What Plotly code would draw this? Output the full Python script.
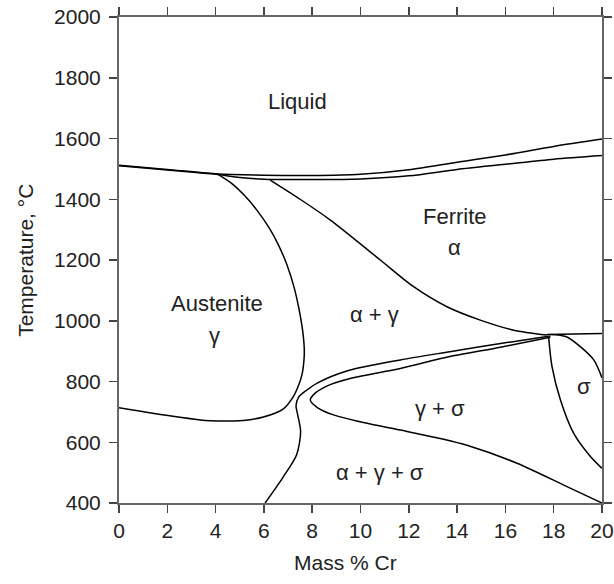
import plotly.graph_objects as go

# ---- data (Mass % Cr, Temperature °C) ----
liquidus_x = [0, 2, 4, 6, 8, 10, 12, 14, 16, 18, 20]
liquidus_T = [1512, 1498, 1484, 1479, 1478, 1482, 1497, 1522, 1546, 1574, 1598]

solidus_x = [0, 2, 4, 5, 6, 8, 10, 12, 14, 16, 18, 20]
solidus_T = [1510, 1496, 1482, 1472, 1466, 1465, 1467, 1477, 1498, 1515, 1532, 1544]

gamma_x = [4.12, 4.7, 5.2, 5.7, 6.2, 6.6, 6.95, 7.25, 7.45, 7.6, 7.67, 7.66, 7.57, 7.4, 7.22, 6.81, 5.98, 5.15, 3.77, 2.39, 0]
gamma_T = [1481, 1450, 1412, 1365, 1308, 1250, 1185, 1110, 1040, 970, 910, 871, 820, 780, 750, 710, 683, 672, 671, 684, 714]

ferrite_x = [6.26, 7.5, 8.74, 10.82, 12.2, 13.58, 14.96, 16.34, 17.72]
ferrite_T = [1463, 1400, 1332, 1200, 1112, 1046, 1002, 969, 953]

eutectoid_x = [17.72, 20]
eutectoid_T = [955, 958]

agg_x = [6.05, 6.81, 7.36, 7.52, 7.40, 7.33, 7.45, 7.78, 8.19, 9.5, 11.65, 13.7, 15.8, 17.86]
agg_T = [400, 487, 560, 635, 690, 720, 750, 772, 794, 836, 871, 898, 925, 950]

gs_x = [17.86, 15.8, 13.7, 11.65, 9.57, 8.6, 8.1, 7.92, 8.2, 8.88, 10.12, 11.65, 13.44, 14.41, 16.48, 18.55, 20]
gs_T = [946, 913, 882, 843, 810, 785, 760, 739, 715, 690, 665, 640, 610, 590, 531, 454, 400]

sigma_left_x = [17.79, 17.93, 18.28, 18.83, 19.52, 20]
sigma_left_T = [947, 849, 739, 629, 553, 514]

sigma_right_x = [17.9, 18.5, 19.1, 19.66, 20]
sigma_right_T = [955, 948, 915, 871, 812]

labels = ["Liquid", "Ferrite", "α", "Austenite", "γ", "α + γ", "γ + σ", "σ", "α + γ + σ"]
label_x = [7.4, 13.9, 13.9, 4.05, 3.95, 10.6, 13.3, 19.24, 10.8]
label_T = [1723, 1343, 1242, 1057, 953, 1019, 712, 783, 499]

x_ticks = [0, 2, 4, 6, 8, 10, 12, 14, 16, 18, 20]
y_ticks = [400, 600, 800, 1000, 1200, 1400, 1600, 1800, 2000]

FONT = "Liberation Sans, Arial, sans-serif"

fig = go.Figure()
curves = [
    (liquidus_x, liquidus_T), (solidus_x, solidus_T), (gamma_x, gamma_T),
    (ferrite_x, ferrite_T), (eutectoid_x, eutectoid_T), (agg_x, agg_T),
    (gs_x, gs_T), (sigma_left_x, sigma_left_T), (sigma_right_x, sigma_right_T),
]
for cx, cy in curves:
    fig.add_trace(go.Scatter(x=cx, y=cy, mode="lines",
                             line=dict(color="black", width=1.5, shape="spline", smoothing=0.8),
                             showlegend=False, hoverinfo="skip"))

for t, lx, ly in zip(labels, label_x, label_T):
    fig.add_annotation(x=lx, y=ly, text=t, showarrow=False,
                       font=dict(family=FONT, size=22, color="#222"))

fig.add_annotation(xref="paper", yref="paper", x=0.468, y=-0.123, text="Mass % Cr",
                   xanchor="center", yanchor="middle",
                   showarrow=False, font=dict(family=FONT, size=21, color="#222"))
fig.add_annotation(xref="paper", yref="paper", x=-0.195, y=0.5, text="Temperature, °C",
                   xanchor="center", yanchor="middle",
                   textangle=-90, showarrow=False, font=dict(family=FONT, size=21, color="#222"))

axis_common = dict(showline=True, linecolor="#666", linewidth=2, mirror="ticks",
                   ticks="outside", ticklen=8, tickwidth=1.5, tickcolor="#444",
                   showgrid=False, zeroline=False, automargin=False,
                   ticklabeloverflow="allow",
                   tickfont=dict(family=FONT, size=21, color="#222"))
fig.update_xaxes(range=[0, 20], tickvals=x_ticks, **axis_common)
fig.update_yaxes(range=[400, 2000], tickvals=y_ticks, ticklabelstandoff=4, **axis_common)

fig.update_layout(width=614, height=584, plot_bgcolor="white", paper_bgcolor="white",
                  margin=dict(l=119, r=12, t=17, b=81))

# remove the page's default 8px body margin so the figure fills the window exactly
fig.write_html("out.html",
               config={"displayModeBar": False, "staticPlot": True},
               post_script="document.body.style.margin='0';document.body.style.padding='0';")
